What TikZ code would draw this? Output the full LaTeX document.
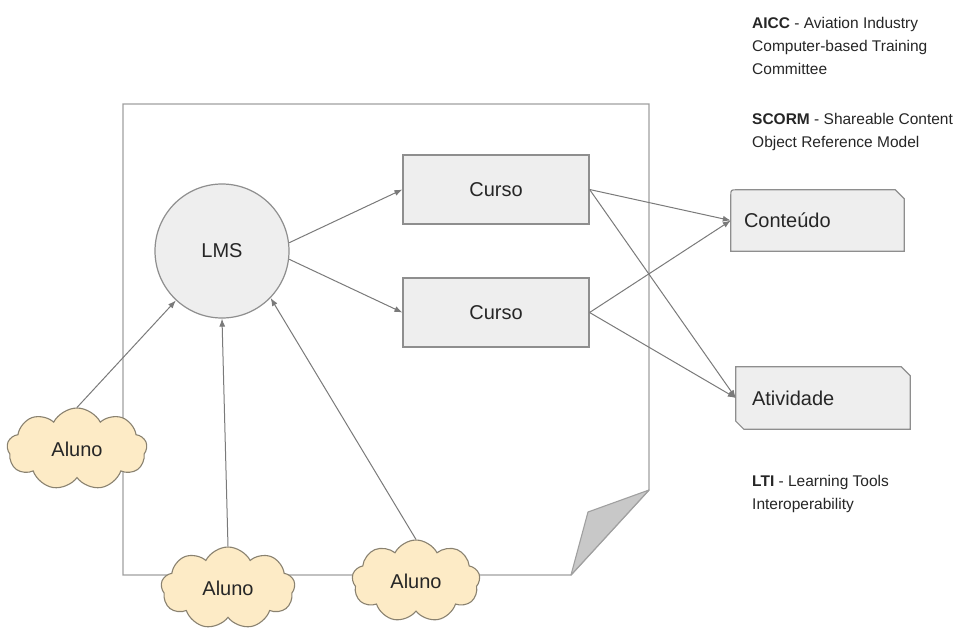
\documentclass[tikz,border=0pt]{standalone}
\usepackage{fontspec}
\setmainfont{Liberation Sans}
\usetikzlibrary{shapes.symbols,arrows.meta,calc}
\definecolor{linegray}{HTML}{7A7A7A}
\definecolor{boxfill}{HTML}{EEEEEE}
\definecolor{boxline}{HTML}{8E8E8E}
\definecolor{cloudfill}{HTML}{FDEBC6}
\definecolor{cloudline}{HTML}{8A8270}
\definecolor{pageline}{HTML}{A0A0A0}
\definecolor{foldfill}{HTML}{C8C8C8}
\definecolor{txt}{HTML}{262626}
\begin{document}
\begin{tikzpicture}[x=1pt,y=-1pt,
  every node/.style={text=txt, font=\fontsize{20}{24}\selectfont},
  coursebox/.style={draw=boxline, fill=boxfill, line width=1.2pt, minimum width=186pt, minimum height=69pt, inner sep=0pt},
  lmscircle/.style={circle, draw=boxline, fill=boxfill, line width=1.2pt, minimum size=134pt, inner sep=0pt},
  snipnode/.style={rectangle, inner ysep=0pt, align=left, text width=#1},
  snipline/.style={draw=boxline, fill=boxfill, line width=1.2pt},
  aluno/.style={cloud, cloud puffs=9, cloud puff arc=125, aspect=1.7, draw=cloudline, fill=cloudfill, line width=1.1pt, minimum width=136pt, minimum height=82pt, inner sep=0pt},
  conn/.style={draw=linegray, line width=1pt, -{Latex[length=8pt,width=6pt]}},
  note/.style={anchor=base west, inner sep=0pt, font=\fontsize{15.5}{19}\selectfont}
]
\useasboundingbox[fill=white] (0,0) rectangle (964,630);

% page with folded corner
\coordinate (pnw) at (123,104);
\coordinate (pne) at (649,104);
\coordinate (pfold) at (649,490);
\coordinate (pfoldin) at (588,512);
\coordinate (pfoldb) at (571,575);
\coordinate (psw) at (123,575);
\draw[pageline, line width=1.3pt] (pnw) -- (pne) -- (pfold) -- (pfoldb) -- (psw) -- cycle;
\filldraw[fill=foldfill, draw=pageline, line width=1.1pt, line join=round] (pfold) -- (pfoldin) -- (pfoldb) -- cycle;

% nodes
\node[lmscircle] (lms) at (222,251) {LMS};
\node[coursebox] (c1) at (496,189.5) {Curso};
\node[coursebox] (c2) at (496,312.5) {Curso};

\node[snipnode=147pt, inner xsep=13pt, minimum height=61pt] (cont) at (817.5,220.5) {};
\draw[snipline] ($(cont.south west)$) -- ($(cont.north west)+(0,6)$) .. controls (cont.north west) .. ($(cont.north west)+(6,0)$)
  -- ($(cont.north east)+(-9,0)$) -- ($(cont.north east)+(0,9)$) -- (cont.south east) -- cycle;
\node[snipnode=147pt, inner xsep=13pt, minimum height=61pt] at (cont.center) {Conte\'udo};

\node[snipnode=142pt, inner xsep=16pt, minimum height=62pt] (ativ) at (823,398) {};
\draw[snipline] ($(ativ.south west)+(0,-8)$) -- (ativ.north west) -- ($(ativ.north east)+(-9,0)$) -- ($(ativ.north east)+(0,9)$)
  -- (ativ.south east) -- ($(ativ.south west)+(8,0)$) -- cycle;
\node[snipnode=142pt, inner xsep=16pt, minimum height=62pt] at (ativ.center) {Atividade};

\node[aluno, minimum width=140pt] (a1) at (77,449) {Aluno};
\node[aluno, minimum width=134pt] (a2) at (228,588) {Aluno};
\node[aluno, minimum width=128pt] (a3) at (416,581) {Aluno};

% connectors
\draw[conn] (a1.north) -- (lms.227);
\draw[conn] (a2.north) -- (lms.270);
\draw[conn] (a3.north) -- (lms.316);
\draw[conn] (lms.7) -- (c1.west);
\draw[conn] (lms.-7) -- (c2.west);
\draw[conn] (c1.east) -- (cont.west);
\draw[conn] (c1.east) -- (ativ.west);
\draw[conn] (c2.east) -- (cont.west);
\draw[conn] (c2.east) -- (ativ.west);

% notes
\node[note] (n1) at (752,28) {\textbf{AICC} - Aviation Industry};
\node[note] (n2) at (752,51) {Computer-based Training};
\node[note] (n3) at (752,74) {Committee};
\node[note] (n4) at (752,124) {\textbf{SCORM} - Shareable Content};
\node[note] (n5) at (752,147) {Object Reference Model};
\node[note] (n6) at (752,486) {\textbf{LTI} - Learning Tools};
\node[note] (n7) at (752,509) {Interoperability};
\end{tikzpicture}
\end{document}
